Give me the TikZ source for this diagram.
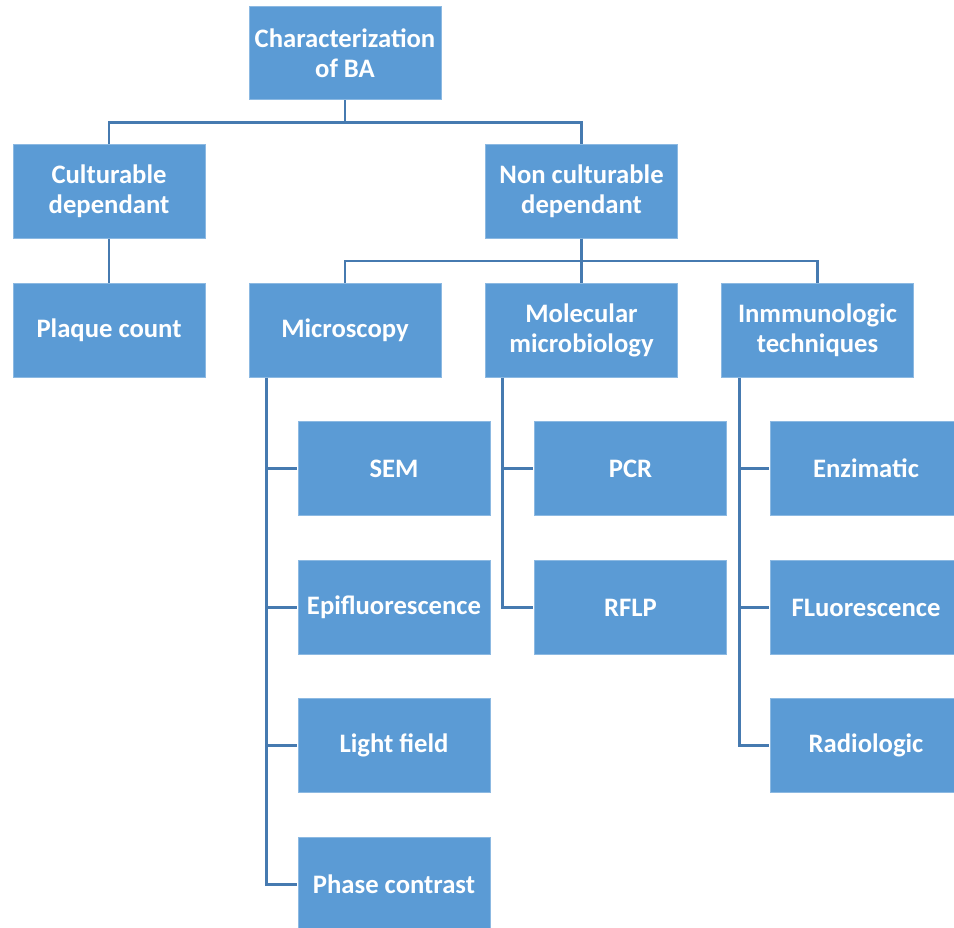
\documentclass[tikz,border=0pt]{standalone}
\usepackage{fontspec}
\setmainfont{Carlito}
\usetikzlibrary{calc}

\definecolor{boxblue}{RGB}{91,155,213}
\definecolor{lineblue}{RGB}{70,122,176}

\tikzset{every picture/.style={line width=0.75pt}}

\begin{document}
\begin{tikzpicture}[x=0.75pt,y=0.75pt,yscale=-1,xscale=1,
  catbox/.style={draw=boxblue!70!white, line width=0.6pt, fill=boxblue, text=white,
    minimum width=144pt, minimum height=70pt, align=center, inner sep=0.75pt,
    font=\bfseries\fontsize{20}{22.5}\selectfont},
  link/.style={draw=lineblue, line width=2pt}]
%set diagram area
\useasboundingbox (0,0) rectangle (954,928);

%Shape: Rectangle
\node[catbox] (top) at (345,53) {Characterization\\of BA};
\node[catbox] (cult) at (109,191.5) {Culturable\\dependant};
\node[catbox] (noncult) at (581.5,191.5) {Non culturable\\dependant};
\node[catbox] (plaque) at (109,330.5) {Plaque count};
\node[catbox] (micro) at (345,330.5) {Microscopy};
\node[catbox] (molec) at (581.5,330.5) {Molecular\\microbiology};
\node[catbox] (immuno) at (817.5,330.5) {Inmmunologic\\techniques};
\node[catbox] (sem) at (394,468.5) {SEM};
\node[catbox] (epi) at (394,607.5) {Epifluorescence};
\node[catbox] (light) at (394,745.5) {Light field};
\node[catbox] (phase) at (394,884.5) {Phase contrast};
\node[catbox] (pcr) at (630.5,468.5) {PCR};
\node[catbox] (rflp) at (630.5,607.5) {RFLP};
\node[catbox] (enz) at (866,468.5) {Enzimatic};
\node[catbox] (fluo) at (866,607.5) {FLuorescence};
\node[catbox] (radio) at (866,745.5) {Radiologic};

%Straight Lines
\draw[link] (top.south) -- ++(0,22.5) -| (cult.north);
\draw[link] (top.south) -- ++(0,22.5) -| (noncult.north);
\draw[link] (cult.south) -- (plaque.north);
\draw[link] (noncult.south) -- ++(0,22.5) -| (micro.north);
\draw[link] (noncult.south) -- ++(0,22.5) -| (immuno.north);
\draw[link] (noncult.south) -- (molec.north);

%Straight Lines
\coordinate (micspine) at ($(micro.south west)+(18,0)$);
\coordinate (molspine) at ($(molec.south west)+(17.5,0)$);
\coordinate (immspine) at ($(immuno.south west)+(18.5,0)$);
\draw[link] (micspine) |- ($(phase.west)+(-1,0)$);
\draw[link] (micspine |- sem.west) -- ($(sem.west)+(-1,0)$);
\draw[link] (micspine |- epi.west) -- ($(epi.west)+(-1,0)$);
\draw[link] (micspine |- light.west) -- ($(light.west)+(-1,0)$);
\draw[link] (molspine) |- ($(rflp.west)+(-1,0)$);
\draw[link] (molspine |- pcr.west) -- ($(pcr.west)+(-1,0)$);
\draw[link] (immspine) |- ($(radio.west)+(-1,0)$);
\draw[link] (immspine |- enz.west) -- ($(enz.west)+(-1,0)$);
\draw[link] (immspine |- fluo.west) -- ($(fluo.west)+(-1,0)$);

\end{tikzpicture}
\end{document}
